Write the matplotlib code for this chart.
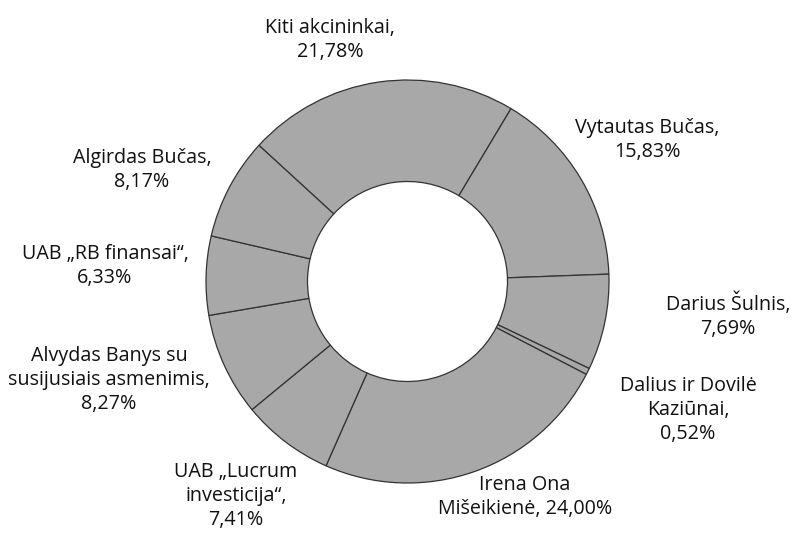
import matplotlib
matplotlib.use("Agg")
import matplotlib.pyplot as plt

plt.rcParams['font.family'] = ['Open Sans', 'DejaVu Sans']

# shareholder structure, clockwise from the top-left
names = ["Kiti akcininkai", "Vytautas Bučas", "Darius Šulnis",
         "Dalius ir Dovilė\nKaziūnai", "Irena Ona\nMišeikienė",
         "UAB „Lucrum\ninvesticija“", "Alvydas Banys su\nsusijusiais asmenimis",
         "UAB „RB finansai“", "Algirdas Bučas"]
shares = [21.78, 15.83, 7.69, 0.52, 24.00, 7.41, 8.27, 6.33, 8.17]
# how name and value are joined in each label
joins = [",\n", ",\n", ",\n", ",\n", ", ", ",\n", ",\n", ",\n", ",\n"]

# label centres in pixel coords (from top-left)
label_xy = [(330, 40), (647, 140), (728, 316), (688, 410), (525, 497),
            (236, 496), (109, 380), (105, 266), (142, 170)]

W, H = 794, 538
fig = plt.figure(figsize=(W / 100, H / 100), dpi=100)
ax = fig.add_axes([0, 0, 1, 1])

cx, cy, R = 407.5, H - 281.5, 201.5
ax.pie(shares, startangle=137.5, counterclock=False, center=(cx, cy), radius=R,
       colors=['#a8a8a8'] * len(shares),
       wedgeprops=dict(width=101.5, edgecolor='#333333', linewidth=0.9))
ax.set_xlim(0, W)
ax.set_ylim(0, H)
ax.set_aspect('equal')
ax.axis('off')

for name, val, j, (x, y) in zip(names, shares, joins, label_xy):
    txt = name + j + f"{val:.2f}".replace('.', ',') + "%"
    ax.text(x, H - y, txt, ha='center', va='center', multialignment='center',
            fontsize=14.2, color='#111111', linespacing=1.25)

fig.savefig("out.png", dpi=100)
